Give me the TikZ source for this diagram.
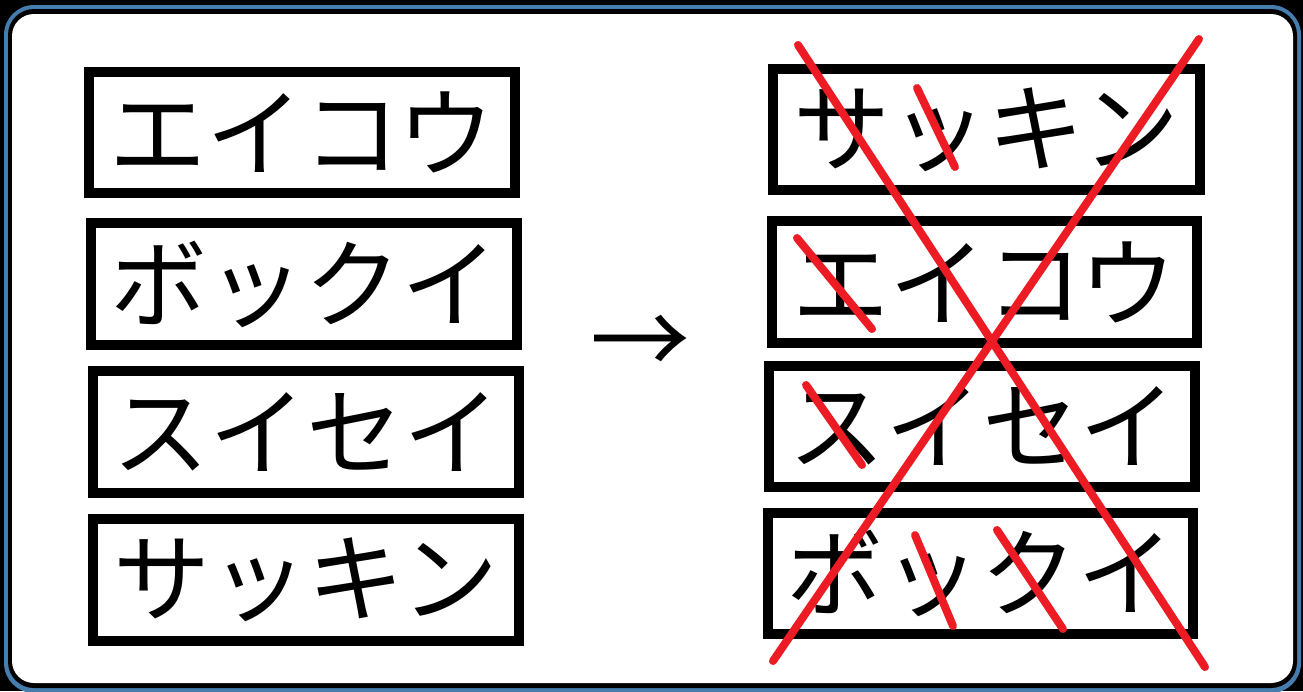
\documentclass[tikz,border=0pt]{standalone}
\usepackage{fontspec}
\newfontfamily\jp{Noto Sans CJK JP}
\definecolor{framecol}{RGB}{70,125,175}
\definecolor{crossred}{RGB}{237,28,36}
\begin{document}
\begin{tikzpicture}[x=1pt,y=-1pt,
  wordbox/.style={draw=black,line width=10pt,fill=white,inner sep=0pt,
    minimum width=426pt,minimum height=121pt,
    font=\jp\fontsize{97}{97}\selectfont},
  cross/.style={draw=crossred,line width=8pt,line cap=round}]
\useasboundingbox (0,0) rectangle (1303,691);
\fill[black] (0,0) rectangle (1303,691);
\fill[framecol,rounded corners=30pt] (4,5) rectangle (1301,693);
\fill[black,rounded corners=26pt] (8,9) rectangle (1297,688);
\fill[white,rounded corners=22pt] (12,14) rectangle (1293,683);
% left column
\node[wordbox] (l1) at (302,132.5) {エイコウ};
\node[wordbox,minimum height=122pt] (l2) at (304,284) {ボックイ};
\node[wordbox,minimum height=122pt] (l3) at (306,432) {スイセイ};
\node[wordbox,minimum height=122pt] (l4) at (306,580) {サッキン};
% arrow
\node[font=\jp\fontsize{100}{100}\selectfont,inner sep=0pt] (arr) at (640,346) {→};
% right column
\node[wordbox,minimum width=427pt] (r1) at (986.5,129.5) {サッキン};
\node[wordbox,minimum width=425pt,minimum height=122pt] (r2) at (984.5,282) {エイコウ};
\node[wordbox] (r3) at (982,426.5) {スイセイ};
\node[wordbox,minimum width=425pt] (r4) at (980.5,573.5) {ボックイ};
% red crossings
\coordinate (xa1) at (798,45);
\coordinate (xa2) at (1205,667);
\coordinate (xb1) at (1199,39);
\coordinate (xb2) at (773,661);
\draw[cross] (xa1) -- (xa2);
\draw[cross] (xb1) -- (xb2);
\coordinate (s1a) at (917,88);  \coordinate (s1b) at (955,167);
\coordinate (s2a) at (797,238); \coordinate (s2b) at (872,329);
\coordinate (s3a) at (806,385); \coordinate (s3b) at (862,465);
\coordinate (s4a) at (915,535); \coordinate (s4b) at (953,626);
\coordinate (s5a) at (997,530); \coordinate (s5b) at (1063,629);
\draw[cross] (s1a) -- (s1b);
\draw[cross] (s2a) -- (s2b);
\draw[cross] (s3a) -- (s3b);
\draw[cross] (s4a) -- (s4b);
\draw[cross] (s5a) -- (s5b);
\end{tikzpicture}
\end{document}
